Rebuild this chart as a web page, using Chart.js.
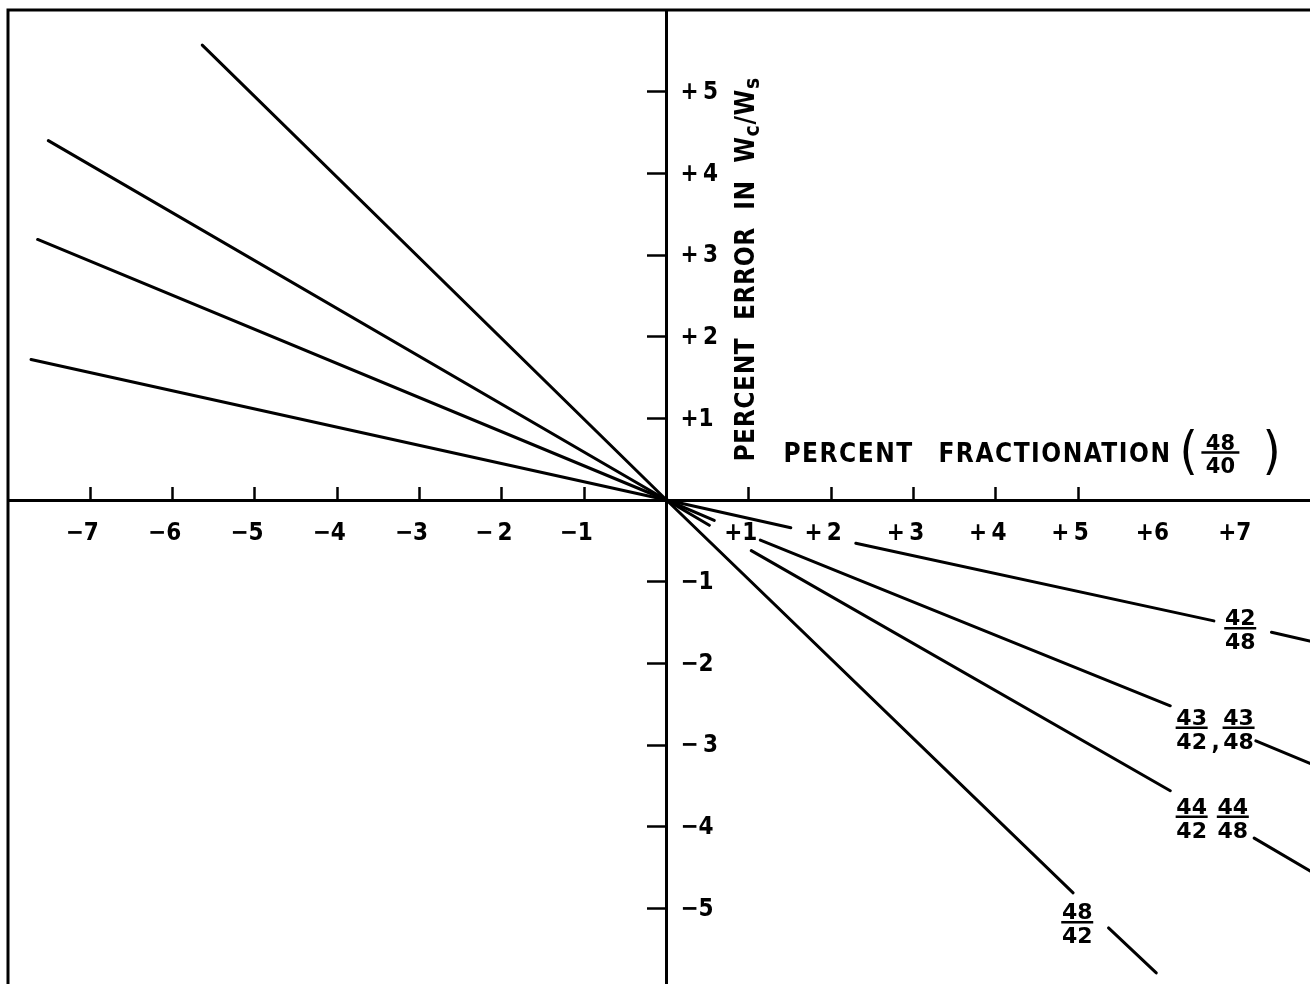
<!DOCTYPE html>
<html>
<head>
<meta charset="utf-8">
<title>Percent error in Wc/Ws versus percent fractionation</title>
<script src="https://cdn.jsdelivr.net/npm/chart.js@4.4.1/dist/chart.umd.min.js"></script>
<style>
  html, body { margin: 0; padding: 0; background: #fff; overflow: hidden; }
  #plot { position: absolute; left: 0; top: 0; }
</style>
</head>
<body>
<canvas id="plot" width="1340" height="1004"></canvas>
<script>
// Percent error in Wc/Ws against percent fractionation (48/40).
// Each line passes through the origin; a null breaks the line where its label sits.
const ratio4842X = [-5.64, 0, 4.94, 5.15, 5.37, 5.95];
const ratio4842Y = [5.57, 0, -4.81, null, -5.24, -5.79];

const ratio44X = [-7.51, 0, 0.52, 0.78, 1.03, 6.12, 6.6, 7.14, 8.0];
const ratio44Y = [4.40, 0, -0.31, null, -0.62, -3.56, null, -4.14, -4.65];

const ratio43X = [-7.64, 0, 0.58, 0.86, 1.14, 6.12, 6.6, 7.16, 8.0];
const ratio43Y = [3.19, 0, -0.25, null, -0.49, -2.52, null, -2.95, -3.30];

const ratio4248X = [-7.72, 0, 1.51, 1.9, 2.30, 6.65, 7.0, 7.35, 8.0];
const ratio4248Y = [1.72, 0, -0.34, null, -0.53, -1.48, null, -1.62, -1.77];

// Axis tick labels and tick marks
const xLabelValues = [-7, -6, -5, -4, -3, -2, -1, 1, 2, 3, 4, 5, 6, 7];
const xLabelTexts  = ['\u22127', '\u22126', '\u22125', '\u22124', '\u22123', '\u2212\u20092', '\u22121',
                      '+1', '+\u20092', '+\u20093', '+\u20094', '+\u20095', '+6', '+7'];
const xTickMarks   = [-7, -6, -5, -4, -3, -2, -1, 1, 2, 3, 4, 5];

const yLabelValues = [5, 4, 3, 2, 1, -1, -2, -3, -4, -5];
const yLabelTexts  = ['+\u20095', '+\u20094', '+\u20093', '+\u20092', '+1',
                      '\u22121', '\u22122', '\u2212\u20093', '\u22124', '\u22125'];
const yTickMarks   = [5, 4, 3, 2, 1, -1, -2, -3, -4, -5];

// Isotope-ratio labels written beside the lines (numerator, denominator, at x, y)
const ratioLabelNum = ['42', '43', '43', '44', '44', '48'];
const ratioLabelDen = ['48', '42', '48', '42', '48', '42'];
const ratioLabelX   = [6.97, 6.38, 6.95, 6.38, 6.88, 4.99];
const ratioLabelY   = [-1.57, -2.79, -2.79, -3.88, -3.88, -5.17];

const INK = '#000';
const FONT = '"DejaVu Sans Condensed", "DejaVu Sans", sans-serif';
const WIDE_FONT = '"DejaVu Sans", sans-serif';

function toPoints(xs, ys) {
  return xs.map((x, i) => ({ x: x, y: ys[i] }));
}

function lineSet(xs, ys) {
  return {
    data: toPoints(xs, ys),
    showLine: true,
    spanGaps: false,
    borderColor: INK,
    borderWidth: 3,
    borderCapStyle: 'round',
    pointRadius: 0,
    tension: 0,
    fill: false
  };
}

// White page and the outer frame round the plotting area
const framePlugin = {
  id: 'frame',
  beforeDraw(chart) {
    const c = chart.ctx;
    const a = chart.chartArea;
    c.save();
    c.fillStyle = '#fff';
    c.fillRect(0, 0, chart.width, chart.height);
    c.strokeStyle = INK;
    c.lineWidth = 3;
    c.strokeRect(a.left, a.top, a.right - a.left, a.bottom - a.top);
    c.restore();
  }
};

function fraction(c, num, den, cx, barY, font, barHalf) {
  c.font = font;
  c.textAlign = 'center';
  c.textBaseline = 'alphabetic';
  c.fillText(num, cx, barY - 3);
  c.textBaseline = 'top';
  c.fillText(den, cx, barY + 4);
  c.beginPath();
  c.lineWidth = 2.5;
  c.moveTo(cx - barHalf, barY);
  c.lineTo(cx + barHalf, barY);
  c.stroke();
}

const textPlugin = {
  id: 'texts',
  afterDraw(chart) {
    const c = chart.ctx;
    const xs = chart.scales.x;
    const ys = chart.scales.y;
    const x0 = xs.getPixelForValue(0);
    c.save();
    c.fillStyle = INK;
    c.strokeStyle = INK;

    // y tick labels, to the right of the vertical axis
    c.font = 'bold 24px ' + FONT;
    c.textAlign = 'left';
    c.textBaseline = 'middle';
    yLabelValues.forEach((v, i) => {
      c.fillText(yLabelTexts[i], x0 + 14, ys.getPixelForValue(v) + 1);
    });

    // horizontal axis title
    const TITLE = 'bold 26px ' + FONT;
    c.font = TITLE;
    c.letterSpacing = '1.5px';
    c.textAlign = 'left';
    c.textBaseline = 'alphabetic';
    const tx = xs.getPixelForValue(1.42);
    const tb = ys.getPixelForValue(0.47);
    c.fillText('PERCENT', tx, tb);
    c.fillText('FRACTIONATION', tx + 155, tb);
    c.letterSpacing = '0px';
    c.font = '52px ' + FONT;
    c.fillText('(', tx + 396, tb + 6);
    c.fillText(')', tx + 479, tb + 6);
    fraction(c, '48', '40', tx + 437, tb - 9, 'bold 21px ' + WIDE_FONT, 19);

    // vertical axis title, reading upwards
    c.save();
    c.translate(xs.getPixelForValue(1.06), ys.getPixelForValue(0.47));
    c.rotate(-Math.PI / 2);
    c.textAlign = 'left';
    c.textBaseline = 'alphabetic';
    c.letterSpacing = '0.6px';
    let px = 0;
    const run = (t, f, dy) => {
      c.font = f;
      c.fillText(t, px, dy);
      px += c.measureText(t).width;
    };
    run('PERCENT  ERROR  IN  W', TITLE, 0);
    run('c', 'bold 21px ' + FONT, 5);
    run('/W', TITLE, 0);
    run('s', 'bold 21px ' + FONT, 5);
    c.restore();

    // isotope-ratio labels on the lines
    ratioLabelNum.forEach((n, i) => {
      fraction(c, n, ratioLabelDen[i], xs.getPixelForValue(ratioLabelX[i]),
               ys.getPixelForValue(ratioLabelY[i]), 'bold 22px ' + WIDE_FONT, 16);
    });
    // comma between 43/42 and 43/48
    c.font = 'bold 24px ' + FONT;
    c.textAlign = 'center';
    c.textBaseline = 'alphabetic';
    c.fillText(',', xs.getPixelForValue(6.67), ys.getPixelForValue(-3.05));
    c.restore();
  }
};

const tickInk = (list) => (ctx) =>
  (ctx.tick && list.indexOf(ctx.tick.value) >= 0) ? INK : 'rgba(0,0,0,0)';

new Chart(document.getElementById('plot'), {
  type: 'scatter',
  data: {
    datasets: [
      lineSet(ratio4842X, ratio4842Y),
      lineSet(ratio44X, ratio44Y),
      lineSet(ratio43X, ratio43Y),
      lineSet(ratio4248X, ratio4248Y)
    ]
  },
  options: {
    responsive: false,
    animation: false,
    events: [],
    layout: { autoPadding: false, padding: { left: 8, top: 10, right: 15, bottom: 14 } },
    plugins: { legend: { display: false }, tooltip: { enabled: false } },
    scales: {
      x: {
        type: 'linear',
        min: -8, max: 8,
        position: { y: 0 },
        afterFit(s) { s.height = 0; s.paddingLeft = 0; s.paddingRight = 0; },
        ticks: {
          stepSize: 1,
          autoSkip: false,
          maxRotation: 0,
          color: INK,
          font: { family: FONT, size: 24, weight: 'bold' },
          padding: 34,
          labelOffset: -8,
          callback(v) {
            const i = xLabelValues.indexOf(v);
            return i >= 0 ? xLabelTexts[i] : '';
          }
        },
        grid: {
          drawOnChartArea: false,
          drawTicks: true,
          tickLength: -15,
          tickWidth: 2.5,
          color: tickInk(xTickMarks),
          tickColor: tickInk(xTickMarks)
        },
        border: { display: true, color: INK, width: 3 }
      },
      y: {
        type: 'linear',
        min: -6, max: 6,
        position: { x: 0 },
        afterFit(s) { s.width = 0; s.paddingTop = 0; s.paddingBottom = 0; },
        ticks: { stepSize: 1, display: false },
        grid: {
          drawOnChartArea: false,
          drawTicks: true,
          tickLength: 18,
          tickWidth: 2.5,
          color: tickInk(yTickMarks),
          tickColor: tickInk(yTickMarks)
        },
        border: { display: true, color: INK, width: 3 }
      }
    }
  },
  plugins: [framePlugin, textPlugin]
});
</script>
</body>
</html>
